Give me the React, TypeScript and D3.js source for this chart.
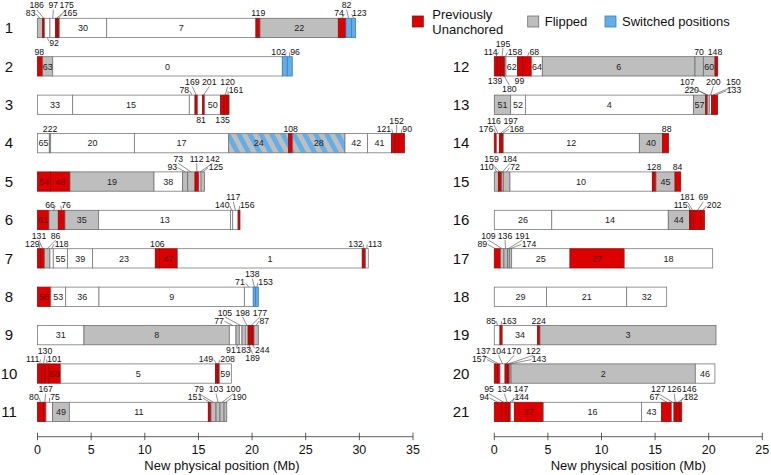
import React from 'react';
import * as d3 from 'd3';

const W = 771;
const H = 475;

// Segment: [id, end (Mb), type]  (start = previous end). Types: w white, g flipped, r previously unanchored, b switched, h flipped+switched
type Seg = [number, number, string];

const chr1: Seg[] = [[83,0.48,'g'],[186,0.67,'r'],[92,1.16,'w'],[97,1.69,'w'],[175,1.85,'r'],[165,2.03,'r'],[30,6.45,'w'],[7,20.36,'w'],[119,20.74,'r'],[22,28.04,'g'],[74,28.75,'r'],[82,29.28,'b'],[123,29.65,'b']];
const chr2: Seg[] = [[98,0.48,'r'],[63,1.42,'g'],[0,22.82,'w'],[102,23.28,'b'],[96,23.75,'b']];
const chr3: Seg[] = [[33,3.28,'w'],[15,14.15,'w'],[78,14.68,'w'],[169,14.93,'r'],[81,15.39,'w'],[201,15.58,'r'],[50,17.07,'w'],[135,17.38,'r'],[120,17.63,'r'],[161,17.85,'r']];
const chr4: Seg[] = [[65,1.1,'w'],[222,1.23,'g'],[20,9.03,'w'],[17,17.82,'w'],[24,23.41,'h'],[108,23.79,'r'],[28,28.66,'h'],[42,30.77,'w'],[41,33.0,'w'],[121,33.33,'r'],[152,33.64,'r'],[90,34.2,'r']];
const chr5: Seg[] = [[54,1.22,'r'],[48,3.03,'r'],[19,10.86,'g'],[38,13.53,'w'],[93,14.0,'g'],[73,14.68,'g'],[112,15.05,'r'],[142,15.24,'w'],[125,15.56,'g']];
const chr6: Seg[] = [[61,1.07,'r'],[66,1.94,'g'],[76,2.56,'r'],[35,5.7,'g'],[13,18.0,'w'],[140,18.2,'w'],[117,18.7,'w'],[156,18.87,'r']];
const chr7: Seg[] = [[129,0.3,'r'],[131,0.64,'r'],[86,1.16,'g'],[118,1.47,'w'],[55,2.81,'w'],[39,5.14,'w'],[23,10.98,'w'],[106,11.36,'r'],[47,13.06,'r'],[1,30.27,'w'],[132,30.58,'r'],[113,30.83,'w']];
const chr8: Seg[] = [[56,1.24,'r'],[53,2.63,'w'],[36,5.73,'w'],[9,19.28,'w'],[71,20.11,'w'],[138,20.33,'b'],[153,20.58,'b']];
const chr9: Seg[] = [[31,4.33,'w'],[8,17.88,'g'],[77,18.5,'w'],[91,18.81,'g'],[105,19.06,'w'],[183,19.43,'g'],[198,19.62,'w'],[189,19.8,'r'],[177,20.02,'r'],[244,20.18,'r'],[87,20.58,'g']];
const chr10: Seg[] = [[111,0.39,'r'],[130,0.7,'r'],[101,1.07,'r'],[58,2.17,'r'],[5,16.6,'w'],[149,16.79,'r'],[208,16.95,'r'],[59,18.07,'w']];
const chr11: Seg[] = [[80,0.56,'r'],[167,0.79,'r'],[75,1.41,'w'],[49,2.97,'g'],[11,15.92,'w'],[151,16.17,'r'],[79,16.64,'g'],[103,17.01,'g'],[100,17.39,'g'],[190,17.64,'g']];
const chr12: Seg[] = [[114,0.28,'r'],[139,0.59,'r'],[195,0.84,'r'],[180,1.0,'r'],[158,1.09,'w'],[62,2.18,'w'],[99,2.65,'r'],[68,3.49,'r'],[64,4.48,'w'],[6,18.72,'g'],[70,19.5,'g'],[60,20.59,'g'],[148,20.84,'r']];
const chr13: Seg[] = [[51,1.53,'g'],[52,2.9,'w'],[4,18.57,'w'],[57,19.72,'g'],[220,19.87,'r'],[107,20.06,'g'],[200,20.27,'w'],[150,20.52,'r'],[133,20.83,'r']];
const chr14: Seg[] = [[176,0.22,'r'],[116,0.47,'w'],[197,0.66,'r'],[168,0.84,'r'],[12,13.53,'w'],[40,15.7,'g'],[88,16.24,'r']];
const chr15: Seg[] = [[110,0.38,'g'],[159,0.69,'r'],[184,0.84,'g'],[72,1.46,'g'],[10,14.74,'w'],[128,15.08,'r'],[45,16.86,'g'],[84,17.39,'r']];
const chr16: Seg[] = [[26,5.36,'w'],[14,16.23,'w'],[44,18.2,'g'],[115,18.35,'r'],[181,18.64,'r'],[69,19.29,'r'],[202,19.6,'r']];
const chr17: Seg[] = [[89,0.59,'r'],[109,0.9,'g'],[136,1.22,'g'],[191,1.4,'g'],[174,1.62,'g'],[25,7.06,'w'],[27,12.13,'r'],[18,20.37,'w']];
const chr18: Seg[] = [[29,4.88,'w'],[21,12.35,'w'],[32,16.08,'w']];
const chr19: Seg[] = [[85,0.53,'w'],[163,0.75,'r'],[34,4.04,'w'],[224,4.26,'r'],[3,20.68,'g']];
const chr20: Seg[] = [[157,0.29,'r'],[137,0.53,'r'],[104,1.0,'w'],[170,1.22,'r'],[122,1.4,'r'],[143,1.56,'g'],[2,18.75,'g'],[46,20.58,'w']];
const chr21: Seg[] = [[94,0.69,'r'],[95,1.09,'r'],[134,1.34,'r'],[147,1.53,'r'],[144,1.87,'w'],[37,4.57,'r'],[16,13.74,'w'],[43,15.61,'w'],[67,16.54,'r'],[127,16.76,'w'],[126,17.01,'r'],[146,17.26,'r'],[182,17.48,'r']];

const chromosomes: Seg[][] = [chr1, chr2, chr3, chr4, chr5, chr6, chr7, chr8, chr9, chr10, chr11, chr12, chr13, chr14, chr15, chr16, chr17, chr18, chr19, chr20, chr21];
const chromNames = ['1','2','3','4','5','6','7','8','9','10','11','12','13','14','15','16','17','18','19','20','21'];

// External labels: [chromosome, id, label position (Mb), level (1,2 above; -1,-2 below), leader target (Mb)]
type Lab = [number, number, number, number, number];
const outerLabels: Lab[] = [
  [1,83,-0.64,1,0.24],[1,186,-0.08,2,0.58],[1,97,1.48,2,1.42],[1,175,2.72,2,1.77],[1,165,3.03,1,1.94],[1,119,20.58,1,20.55],[1,74,28.1,1,28.4],[1,82,28.81,2,29.0],[1,123,30.0,1,29.47],[1,92,1.54,-1,0.92],
  [2,98,0.17,1,0.24],[2,102,22.47,1,23.05],[2,96,24.0,1,23.5],
  [3,78,13.68,1,14.4],[3,169,14.43,2,14.8],[3,201,16.01,2,15.48],[3,120,17.72,2,17.5],[3,161,18.5,1,17.75],[3,81,15.24,-1,15.15],[3,135,17.25,-1,17.2],
  [4,222,1.17,1,1.16],[4,108,23.6,1,23.6],[4,121,32.29,1,33.15],[4,152,33.47,2,33.48],[4,90,34.46,1,33.9],
  [5,93,12.56,1,13.77],[5,73,13.12,2,14.3],[5,112,14.83,2,14.86],[5,142,16.32,2,15.15],[5,125,16.63,1,15.4],
  [6,66,1.17,1,1.5],[6,76,2.66,1,2.25],[6,140,17.22,1,18.1],[6,117,18.25,2,18.45],[6,156,19.55,1,18.8],
  [7,129,-0.48,1,0.15],[7,131,0.14,2,0.47],[7,86,1.69,2,0.9],[7,118,2.25,1,1.31],[7,106,11.17,1,11.17],[7,132,29.65,1,30.42],[7,113,31.45,1,30.7],
  [8,71,18.87,1,19.7],[8,138,20.02,2,20.22],[8,153,21.26,1,20.45],
  [9,77,16.92,1,18.2],[9,105,17.47,2,18.93],[9,198,19.12,2,19.52],[9,177,20.73,2,19.91],[9,87,21.14,1,20.38],[9,91,18.03,-1,18.65],[9,183,19.21,-1,19.25],[9,244,20.95,-1,20.1],[9,189,20.05,-2,19.71],
  [10,111,-0.45,1,0.2],[10,130,0.7,2,0.55],[10,101,1.57,1,0.88],[10,149,15.7,1,16.7],[10,208,17.72,1,16.87],
  [11,80,-0.33,1,0.28],[11,167,0.76,2,0.68],[11,75,1.63,1,1.1],[11,151,14.68,1,16.05],[11,79,15.05,2,16.4],[11,103,16.64,2,16.83],[11,100,18.25,2,17.2],[11,190,18.81,1,17.52],
  [12,114,-0.34,1,0.14],[12,195,0.81,2,0.72],[12,158,1.93,1,1.05],[12,68,3.73,1,3.1],[12,70,19.1,1,19.1],[12,148,20.59,1,20.7],[12,139,0.07,-1,0.43],[12,99,2.34,-1,2.4],[12,180,1.4,-2,0.92],
  [13,220,18.41,1,19.8],[13,107,18.01,2,19.96],[13,200,20.43,2,20.17],[13,150,22.3,2,20.4],[13,133,22.36,1,20.68],
  [14,176,-0.77,1,0.11],[14,116,-0.03,2,0.35],[14,197,1.53,2,0.56],[14,168,2.09,1,0.75],[14,88,16.08,1,16.0],
  [15,110,-0.71,1,0.2],[15,159,-0.25,2,0.53],[15,184,1.46,2,0.77],[15,72,1.93,1,1.15],[15,128,14.9,1,14.9],[15,84,17.1,1,17.1],
  [16,115,17.38,1,18.27],[16,181,18.0,2,18.5],[16,69,19.5,2,18.95],[16,202,20.5,1,19.45],
  [17,89,-1.12,1,0.1],[17,109,-0.55,2,0.74],[17,136,1.0,2,1.05],[17,191,2.61,2,1.3],[17,174,3.24,1,1.5],
  [19,85,-0.3,1,0.3],[19,163,1.4,1,0.64],[19,224,4.14,1,4.15],
  [20,157,-1.4,1,0.15],[20,137,-1.02,2,0.4],[20,104,0.41,2,0.77],[20,170,1.84,2,1.11],[20,122,3.64,2,1.31],[20,143,4.17,1,1.48],
  [21,94,-0.93,1,0.34],[21,95,-0.49,2,0.89],[21,134,0.94,2,1.2],[21,147,2.49,2,1.44],[21,144,2.55,1,1.7],[21,67,14.93,1,16.1],[21,127,15.3,2,16.65],[21,126,16.79,2,16.88],[21,146,18.19,2,17.14],[21,182,18.34,1,17.37],
];

const leftTicks = [0, 5, 10, 15, 20, 25, 30, 35];
const rightTicks = [0, 5, 10, 15, 20, 25];
const legendItems = [
  { label: ['Previously', 'Unanchored'], type: 'r' },
  { label: ['Flipped'], type: 'g' },
  { label: ['Switched positions'], type: 'b' },
];

const FONT = 'Liberation Sans, Arial, Helvetica, sans-serif';
const FILL: Record<string, string> = { w: '#ffffff', g: '#bebebe', r: '#dd0000', b: '#62aee8', h: 'url(#hatch)' };
const STROKE: Record<string, string> = { w: '#7a7a7a', g: '#6e6e6e', r: '#8c1010', b: '#3f7fb8', h: '#7a7a7a' };
const LAB_FS = 8.7;

const xLeft = d3.scaleLinear().domain([0, 35]).range([37.5, 413]);
const xRight = d3.scaleLinear().domain([0, 25]).range([494.3, 762.3]);
const yRow = d3.scaleLinear().domain([0, 10]).range([18.3, 402.3]);
const BAR_H = 19.3;
const AXIS_Y = 436.7;

function layout(ci: number) {
  const panel = ci < 11 ? 0 : 1;
  const slot = ci < 11 ? ci : ci - 10;
  return { x: panel === 0 ? xLeft : xRight, top: yRow(slot), panel };
}

export default function App() {
  const labelled = new Set(outerLabels.map((l) => `${l[0]}-${l[1]}`));
  const rows = chromosomes.map((segs, ci) => {
    const { x, top, panel } = layout(ci);
    let start = 0;
    const pieces = segs.map(([id, end, type]) => {
      const s = start;
      start = end;
      return { id, s, e: end, type };
    });
    return (
      <g key={ci}>
        <text x={panel === 0 ? 9 : 461} y={top + BAR_H / 2 + 5.3} fontSize={15} textAnchor="middle" fontFamily={FONT} fill="#111">
          {chromNames[ci]}
        </text>
        {pieces.map((p) => (
          <rect key={p.id} x={x(p.s)} y={top} width={Math.max(0.5, x(p.e) - x(p.s))} height={BAR_H}
            fill={FILL[p.type]} stroke={STROKE[p.type]} strokeWidth={0.8} />
        ))}
        {pieces.filter((p) => !labelled.has(`${ci + 1}-${p.id}`)).map((p) => (
          <text key={'t' + p.id} x={(x(p.s) + x(p.e)) / 2} y={top + BAR_H / 2 + 3.2} fontSize={9}
            textAnchor="middle" fontFamily={FONT} fill={p.type === 'r' ? '#6a0000' : '#222'}>
            {p.id}
          </text>
        ))}
      </g>
    );
  });

  const labels = outerLabels.map(([chr, id, pos, level, target], i) => {
    const { x, top } = layout(chr - 1);
    const bottom = top + BAR_H;
    const lx = x(pos);
    const tx = x(target);
    const halfW = String(id).length * LAB_FS * 0.278;
    let ty = 0;
    let line: [number, number, number, number] | null = null;
    if (level === 2) {
      ty = top - 10;
      line = [lx, top - 8.6, tx, top];
    } else if (level === 1) {
      ty = top - 1.9;
      if (Math.abs(lx - tx) > halfW * 0.6) {
        const ex = tx < lx ? lx - halfW - 0.5 : lx + halfW + 0.5;
        line = [ex, top - 4.3, tx, top];
      }
    } else if (level === -1) {
      ty = bottom + 8.3;
      if (Math.abs(lx - tx) > halfW * 0.6) {
        const ex = tx < lx ? lx - halfW - 0.5 : lx + halfW + 0.5;
        line = [ex, bottom + 3.5, tx, bottom];
      }
    } else {
      ty = bottom + 16;
      line = [lx, bottom + 9, tx, bottom];
    }
    return (
      <g key={'l' + i}>
        {line && <line x1={line[0]} y1={line[1]} x2={line[2]} y2={line[3]} stroke="#444" strokeWidth={0.6} />}
        <text x={lx} y={ty} fontSize={LAB_FS} textAnchor="middle" fontFamily={FONT} fill="#111">{id}</text>
      </g>
    );
  });

  const axis = (scale: d3.ScaleLinear<number, number>, ticks: number[], key: string, titleX: number) => (
    <g key={key}>
      <line x1={scale(ticks[0])} x2={scale(ticks[ticks.length - 1])} y1={AXIS_Y} y2={AXIS_Y} stroke="#333" strokeWidth={0.8} />
      {ticks.map((t) => (
        <g key={t}>
          <line x1={scale(t)} x2={scale(t)} y1={AXIS_Y - 4} y2={AXIS_Y + 3.5} stroke="#333" strokeWidth={0.8} />
          <text x={scale(t)} y={AXIS_Y + 17} fontSize={12.5} textAnchor="middle" fontFamily={FONT} fill="#111">{t}</text>
        </g>
      ))}
      <text x={titleX} y={AXIS_Y + 33.5} fontSize={13} textAnchor="middle" fontFamily={FONT} fill="#111">New physical position (Mb)</text>
    </g>
  );

  const legendX = [412.3, 527.7, 605];
  const legend = legendItems.map((item, i) => (
    <g key={'lg' + i}>
      <rect x={legendX[i]} y={16} width={11} height={11} fill={FILL[item.type]} stroke={STROKE[item.type]} strokeWidth={0.8} />
      {item.label.length === 1 ? (
        <text x={legendX[i] + 17} y={26.3} fontSize={13} fontFamily={FONT} fill="#111">{item.label[0]}</text>
      ) : (
        <text x={legendX[i] + 20} fontSize={13} fontFamily={FONT} fill="#111">
          <tspan x={legendX[i] + 20} y={19.3}>{item.label[0]}</tspan>
          <tspan x={legendX[i] + 20} y={34}>{item.label[1]}</tspan>
        </text>
      )}
    </g>
  ));

  return (
    <svg width={W} height={H} viewBox={`0 0 ${W} ${H}`} style={{ position: 'absolute', left: 0, top: 0, background: '#fff' }}>
      <defs>
        <pattern id="hatch" patternUnits="userSpaceOnUse" width={9.7} height={9.7} patternTransform="rotate(-28)">
          <rect x={0} y={0} width={9.7} height={9.7} fill="#bebebe" />
          <rect x={0} y={0} width={4.85} height={9.7} fill="#62aee8" />
        </pattern>
      </defs>
      <rect x={0} y={0} width={W} height={H} fill="#fff" />
      {rows}
      {labels}
      {axis(xLeft, leftTicks, 'ax0', 222)}
      {axis(xRight, rightTicks, 'ax1', 628.3)}
      {legend}
    </svg>
  );
}
